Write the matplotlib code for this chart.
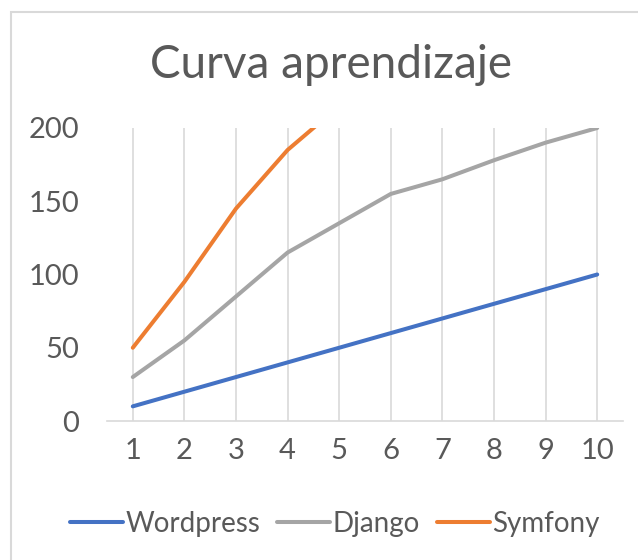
import numpy as np
import matplotlib.pyplot as plt
from matplotlib.patches import Rectangle

plt.rcParams['font.family'] = ['Lato', 'DejaVu Sans']

semanas = [1, 2, 3, 4, 5, 6, 7, 8, 9, 10]
wordpress = [10, 20, 30, 40, 50, 60, 70, 80, 90, 100]
django = [30, 55, 85, 115, 135, 155, 165, 178, 190, 200]
symfony = [50, 95, 145, 185, 215, np.nan, np.nan, np.nan, np.nan, np.nan]

gris = '#595959'

fig = plt.figure(figsize=(6.38, 5.6), dpi=100)
ax = fig.add_axes([107/638, 1 - 421/560, (623-107)/638, (421-128)/560])

ax.plot(semanas, wordpress, color='#4472C4', lw=2.9, label='Wordpress', solid_capstyle='round')
ax.plot(semanas, django, color='#A5A5A5', lw=2.9, label='Django', solid_capstyle='round')
ax.plot(semanas, symfony, color='#ED7D31', lw=2.9, label='Symfony', solid_capstyle='round')

ax.set_xlim(0.5, 10.5)
ax.set_ylim(0, 200)
ax.set_xticks(semanas)
ax.set_yticks([0, 50, 100, 150, 200])
ax.grid(axis='x', color='#d9d9d9', lw=1.2)
ax.set_axisbelow(True)
for s in ['top', 'right', 'left']:
    ax.spines[s].set_visible(False)
ax.spines['bottom'].set_color('#d9d9d9')
ax.spines['bottom'].set_linewidth(1.2)
ax.tick_params(length=0, labelsize=21, labelcolor=gris)
ax.tick_params(axis='y', pad=20)
ax.tick_params(axis='x', pad=12)

fig.text(331/638, 1 - 65/560, 'Curva aprendizaje', ha='center', va='center',
         fontsize=33, color=gris)

fig.legend(loc='center', bbox_to_anchor=(335/638, 1 - 524/560), ncol=3, frameon=False,
           fontsize=20, labelcolor=gris, handlelength=1.9, handletextpad=0.1,
           columnspacing=0.6)

# borde del grafico
fig.patches.append(Rectangle((10.5/638, -0.1), 1.2, 1 - 11.5/560 + 0.1,
                             transform=fig.transFigure, fill=False,
                             edgecolor='#d9d9d9', lw=1.5))

fig.savefig('out.png', dpi=100)
